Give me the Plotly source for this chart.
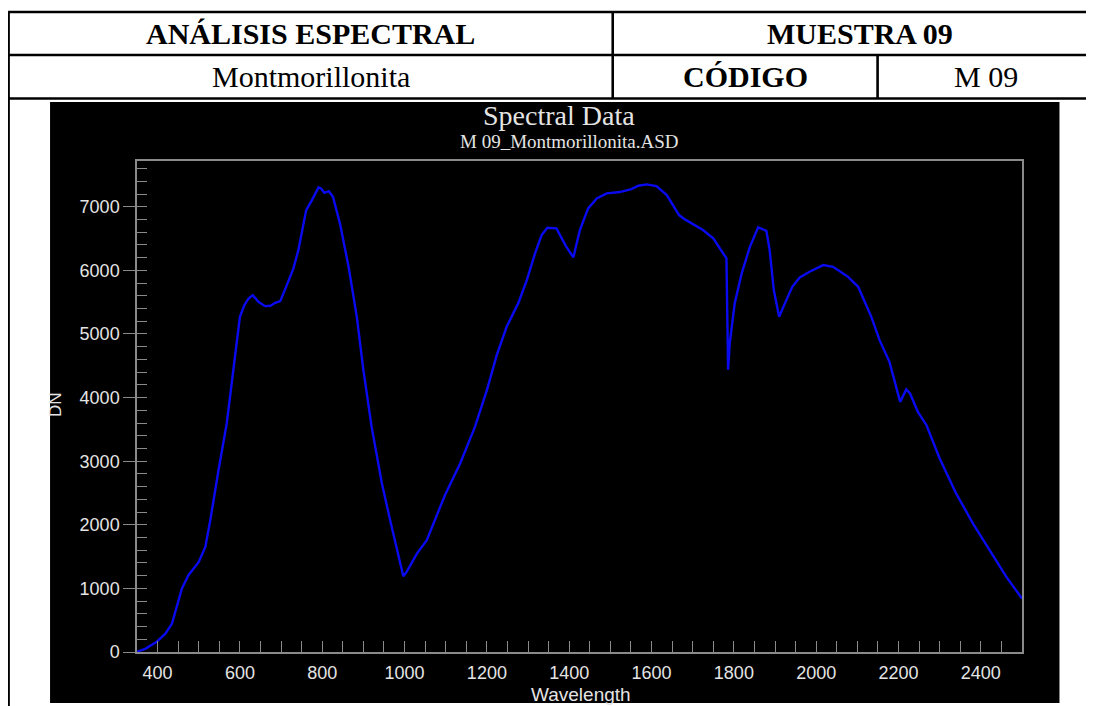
import plotly.graph_objects as go

# ---------------- data ----------------
wavelength = [350, 370, 397, 419, 435, 447, 459, 475, 500, 516, 528, 548, 568, 580, 591,
              600, 611, 621, 631, 645, 661, 674, 686, 698, 714, 730, 742, 761, 775, 791,
              797, 805, 816, 826, 843, 864, 884, 900, 920, 945, 965, 985, 997, 1005, 1030,
              1054, 1074, 1098, 1135, 1171, 1200, 1224, 1248, 1276, 1297, 1317, 1333, 1347,
              1369, 1379, 1392, 1410, 1426, 1446, 1467, 1491, 1523, 1551, 1568, 1588, 1612,
              1637, 1653, 1667, 1681, 1705, 1725, 1750, 1770, 1782, 1786, 1790, 1802, 1819,
              1839, 1859, 1879, 1887, 1897, 1910, 1924, 1942, 1960, 1984, 2017, 2041, 2077,
              2102, 2134, 2154, 2178, 2194, 2204, 2219, 2228, 2247, 2268, 2300, 2340, 2381,
              2421, 2462, 2500]
dn = [5, 50, 157, 289, 447, 708, 997, 1207, 1416, 1652, 2072, 2858, 3593, 4222, 4851,
      5270, 5454, 5559, 5611, 5506, 5438, 5443, 5490, 5517, 5768, 6031, 6319, 6948, 7106, 7305,
      7289, 7220, 7247, 7157, 6739, 6057, 5270, 4431, 3540, 2649, 2072, 1548, 1191, 1259, 1548,
      1757, 2072, 2465, 2963, 3540, 4117, 4667, 5113, 5481, 5847, 6267, 6555, 6670,
      6660, 6528, 6382, 6204, 6634, 6975, 7132, 7211, 7232, 7279, 7331, 7352, 7326,
      7184, 7027, 6870, 6802, 6712, 6634, 6503, 6319, 6188, 4440, 4851, 5481, 5953,
      6371, 6676, 6623, 6319, 5690, 5270, 5481, 5742, 5889, 5978, 6083, 6057, 5900,
      5742, 5270, 4903, 4562, 4169, 3933, 4128, 4065, 3776, 3566, 3042, 2492, 2020,
      1600, 1180, 840]

x_ticks = [400, 600, 800, 1000, 1200, 1400, 1600, 1800, 2000, 2200, 2400]
y_ticks = [0, 1000, 2000, 3000, 4000, 5000, 6000, 7000]

title = "Spectral Data"
subtitle = "M 09_Montmorillonita.ASD"
x_label = "Wavelength"
y_label = "DN"
table_cells = ["ANÁLISIS ESPECTRAL", "MUESTRA 09", "Montmorillonita", "CÓDIGO", "M 09"]

# ---------------- layout geometry ----------------
# page body adds an 8px margin; shift everything by that amount
OFF = 8
W, H = 1094, 706
PL, PR, PT, PB = 137, 1022.5, 161, 652  # plot area in page pixels
ML = PL - OFF
MT = PT - OFF
MR = W - (PR - OFF)
MB = H - (PB - OFF)
PW, PH = W - ML - MR, H - MT - MB


def px(x):
    return (x - PL) / PW


def py(y):
    return (PB - y) / PH


GRAY = "#8a8a8a"
TXT = "#e4e4e4"

fig = go.Figure()
fig.add_trace(go.Scatter(x=wavelength, y=dn, mode="lines",
                         line=dict(color="#0a0af0", width=2.4),
                         showlegend=False, hoverinfo="x+y"))

shapes = []
# black chart background panel
shapes.append(dict(type="rect", xref="paper", yref="paper",
                   x0=px(50), x1=px(1060), y0=py(703), y1=py(102),
                   fillcolor="black", line=dict(width=0), layer="below"))
# table lines
lw = 2.6
for yy in [12, 55, 98.5]:
    shapes.append(dict(type="line", xref="paper", yref="paper",
                       x0=px(8), x1=px(1110), y0=py(yy), y1=py(yy),
                       line=dict(color="black", width=lw)))
shapes.append(dict(type="line", xref="paper", yref="paper",
                   x0=px(8.5), x1=px(8.5), y0=py(12), y1=py(720),
                   line=dict(color="black", width=lw)))
shapes.append(dict(type="line", xref="paper", yref="paper",
                   x0=px(613), x1=px(613), y0=py(12), y1=py(98.5),
                   line=dict(color="black", width=lw)))
shapes.append(dict(type="line", xref="paper", yref="paper",
                   x0=px(878), x1=px(878), y0=py(55), y1=py(98.5),
                   line=dict(color="black", width=lw)))

annotations = []
serif = "Liberation Serif, Times New Roman, serif"
cell_pos = [(311, 33.5, True), (860, 33.5, True), (311, 77, False),
            (746, 77, True), (986, 77, False)]
for txt, (cx, cy, bold) in zip(table_cells, cell_pos):
    annotations.append(dict(text=f"<b>{txt}</b>" if bold else txt,
                            x=px(cx), y=py(cy), xref="paper", yref="paper",
                            showarrow=False, xanchor="center", yanchor="middle",
                            font=dict(family=serif, size=30, color="black")))

annotations.append(dict(text=title, x=px(559), y=py(115.5), xref="paper", yref="paper",
                        showarrow=False, xanchor="center", yanchor="middle",
                        font=dict(family=serif, size=28, color=TXT)))
annotations.append(dict(text=subtitle, x=px(570), y=py(142), xref="paper", yref="paper",
                        showarrow=False, xanchor="center", yanchor="middle",
                        font=dict(family=serif, size=19, color=TXT)))
annotations.append(dict(text=x_label, x=px(581), y=py(694), xref="paper", yref="paper",
                        showarrow=False, xanchor="center", yanchor="middle",
                        font=dict(family="Liberation Sans, Arial, sans-serif", size=19, color=TXT)))
annotations.append(dict(text=y_label, x=px(55), y=py(405), xref="paper", yref="paper",
                        showarrow=False, xanchor="center", yanchor="middle", textangle=-90,
                        font=dict(family="Liberation Sans, Arial, sans-serif", size=17, color=TXT)))

tickfont = dict(family="Liberation Sans, Arial, sans-serif", size=18, color=TXT)

fig.update_layout(
    width=W, height=H,
    margin=dict(l=ML, r=MR, t=MT, b=MB, pad=0),
    paper_bgcolor="white", plot_bgcolor="black",
    shapes=shapes, annotations=annotations,
    showlegend=False,
    xaxis=dict(range=[350, 2500], tickmode="array", tickvals=x_ticks,
               ticktext=[str(v) for v in x_ticks],
               showgrid=False, zeroline=False,
               showline=True, linecolor=GRAY, linewidth=1.5, mirror=True,
               ticks="inside", ticklen=11, tickwidth=1.3, tickcolor=GRAY,
               ticklabelstandoff=4,
               minor=dict(dtick=50, tick0=0, ticks="inside", ticklen=11,
                          tickwidth=1.2, tickcolor=GRAY, showgrid=False),
               tickfont=tickfont),
    yaxis=dict(range=[0, 7720], tickmode="array", tickvals=y_ticks,
               ticktext=[str(v) for v in y_ticks],
               showgrid=False, zeroline=False,
               showline=True, linecolor=GRAY, linewidth=1.5, mirror=True,
               ticks="outside", ticklen=12, tickwidth=1.3, tickcolor=GRAY,
               minor=dict(dtick=200, tick0=0, ticks="inside", ticklen=10,
                          tickwidth=1.2, tickcolor=GRAY, showgrid=False),
               tickfont=tickfont),
)

fig.write_html("out.html")
